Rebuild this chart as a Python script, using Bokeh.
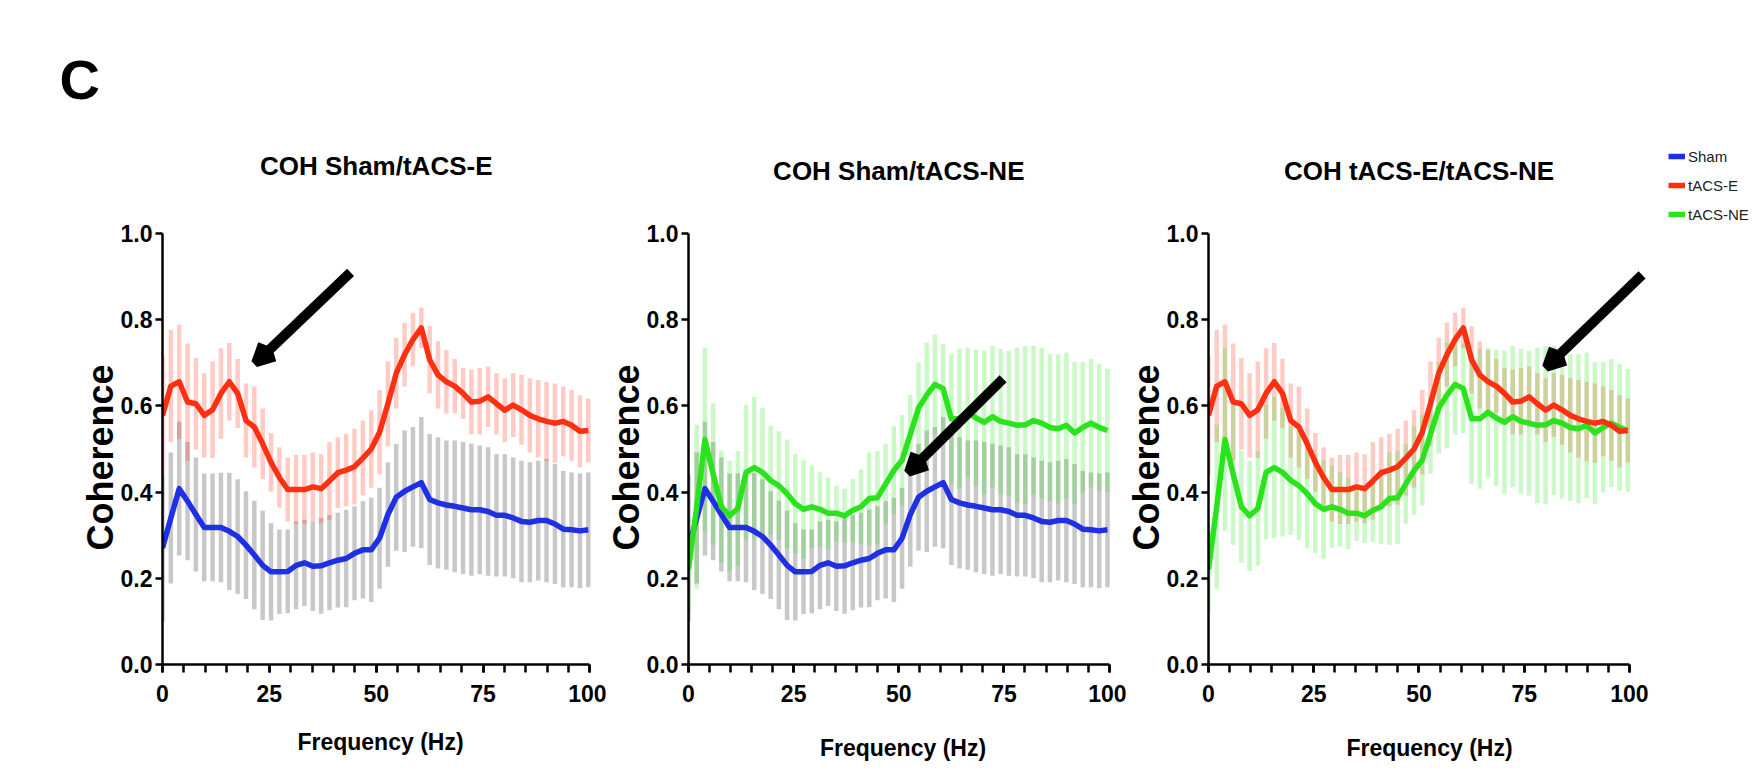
from bokeh.plotting import figure
from bokeh.layouts import row
from bokeh.models import (Range1d, SingleIntervalTicker, FixedTicker, PrintfTickFormatter,
                          Label, Arrow, OpenHead, Legend, LegendItem, Title)
from bokeh.embed import file_html
from bokeh.resources import INLINE

# ---------------- data ----------------
FREQ = [0.0, 1.95, 3.91, 5.86, 7.81, 9.77, 11.72, 13.67, 15.63, 17.58, 19.53, 21.48, 23.44,
        25.39, 27.34, 29.3, 31.25, 33.2, 35.16, 37.11, 39.06, 41.02, 42.97, 44.92, 46.88,
        48.83, 50.78, 52.73, 54.69, 56.64, 58.59, 60.55, 62.5, 64.45, 66.41, 68.36, 70.31,
        72.27, 74.22, 76.17, 78.13, 80.08, 82.03, 83.98, 85.94, 87.89, 89.84, 91.8, 93.75,
        95.7, 97.66, 99.61]

SHAM = [0.27, 0.34, 0.408, 0.379, 0.348, 0.318, 0.318, 0.318, 0.309, 0.297, 0.277, 0.254,
        0.23, 0.215, 0.215, 0.216, 0.23, 0.236, 0.228, 0.229, 0.236, 0.242, 0.246, 0.258,
        0.266, 0.266, 0.293, 0.348, 0.388, 0.402, 0.412, 0.422, 0.383, 0.375, 0.37, 0.367,
        0.363, 0.359, 0.359, 0.355, 0.346, 0.346, 0.34, 0.332, 0.33, 0.334, 0.334, 0.326,
        0.314, 0.3125, 0.31, 0.3125]
SHAM_SEM = [0.17, 0.152, 0.155, 0.137, 0.132, 0.125, 0.125, 0.127, 0.136, 0.133, 0.125, 0.126,
            0.127, 0.113, 0.098, 0.097, 0.102, 0.1, 0.104, 0.111, 0.11, 0.11, 0.113, 0.109,
            0.113, 0.121, 0.117, 0.121, 0.124, 0.141, 0.139, 0.152, 0.152, 0.152, 0.15, 0.153,
            0.153, 0.153, 0.149, 0.149, 0.142, 0.142, 0.14, 0.141, 0.139, 0.139, 0.143, 0.139,
            0.135, 0.133, 0.133, 0.133]

TACS_E = [0.578, 0.646, 0.656, 0.609, 0.605, 0.578, 0.591, 0.629, 0.656, 0.629, 0.566, 0.551,
          0.512, 0.469, 0.434, 0.406, 0.406, 0.406, 0.412, 0.408, 0.426, 0.445, 0.451, 0.459,
          0.479, 0.5, 0.539, 0.605, 0.676, 0.719, 0.754, 0.781, 0.707, 0.672, 0.656, 0.646,
          0.629, 0.609, 0.611, 0.621, 0.605, 0.59, 0.602, 0.591, 0.578, 0.57, 0.564, 0.56,
          0.564, 0.555, 0.541, 0.543]
TACS_E_SEM = [0.137, 0.13, 0.133, 0.136, 0.106, 0.098, 0.112, 0.105, 0.09, 0.08, 0.086, 0.094,
              0.082, 0.068, 0.07, 0.074, 0.08, 0.08, 0.08, 0.08, 0.09, 0.082, 0.084, 0.088,
              0.087, 0.09, 0.098, 0.098, 0.082, 0.074, 0.062, 0.047, 0.078, 0.078, 0.074, 0.063,
              0.059, 0.075, 0.077, 0.07, 0.071, 0.074, 0.074, 0.081, 0.086, 0.09, 0.092, 0.092,
              0.081, 0.082, 0.084, 0.074]

TACS_NE = [0.221, 0.366, 0.522, 0.442, 0.366, 0.345, 0.362, 0.446, 0.457, 0.446, 0.427, 0.415,
           0.396, 0.373, 0.36, 0.366, 0.36, 0.351, 0.351, 0.345, 0.358, 0.366, 0.385, 0.387,
           0.419, 0.45, 0.474, 0.534, 0.595, 0.625, 0.65, 0.64, 0.57, 0.57, 0.585, 0.572,
           0.562, 0.575, 0.564, 0.56, 0.555, 0.556, 0.566, 0.56, 0.55, 0.547, 0.555, 0.537,
           0.55, 0.56, 0.55, 0.543]
TACS_NE_SEM = [0.1, 0.19, 0.213, 0.164, 0.13, 0.128, 0.133, 0.156, 0.164, 0.149, 0.126, 0.126,
               0.126, 0.115, 0.114, 0.095, 0.086, 0.083, 0.064, 0.063, 0.073, 0.087, 0.107, 0.108,
               0.092, 0.103, 0.105, 0.091, 0.106, 0.122, 0.116, 0.103, 0.15, 0.162, 0.15, 0.158,
               0.166, 0.164, 0.168, 0.168, 0.18, 0.183, 0.173, 0.175, 0.17, 0.173, 0.169, 0.164,
               0.151, 0.149, 0.147, 0.143]

SERIES_NAMES = ["Sham", "tACS-E", "tACS-NE"]
TITLES = ["COH Sham/tACS-E", "COH Sham/tACS-NE", "COH tACS-E/tACS-NE"]
PANEL_LETTER = "C"
X_LABEL = "Frequency (Hz)"
Y_LABEL = "Coherence"
Y_TICKS = [0.0, 0.2, 0.4, 0.6, 0.8, 1.0]

# arrows (tail -> tip) in data coordinates of each panel
ARROWS = [((44.0, 0.91), (21.8, 0.70)),
          ((74.8, 0.663), (52.3, 0.446)),
          ((103.0, 0.904), (80.3, 0.69))]

# ---------------- styles / geometry ----------------
BLUE = "#1f2fe3"
RED = "#ff3012"
GREEN = "#2ae31c"
GRAY = "#9a9a9a"
FONT = "Liberation Sans"
TOP = 110          # frame top (page px)
PX_UNIT = 431      # px per coherence unit
FRAME_H = 554      # frame height -> y=1 at 233, y=0 at 664
BOTTOM = 106       # bottom border


def bars(p, y, sem, color, alpha):
    lo = [m - s for m, s in zip(y, sem)]
    hi = [m + s for m, s in zip(y, sem)]
    p.segment(x0=FREQ, y0=lo, x1=FREQ, y1=hi, line_color=color, line_alpha=alpha,
              line_width=4.5, line_cap="butt")


def make_panel(idx, x_end, px_hz, bl, br, lab_sd, title_y):
    frame_w = int(round(px_hz * x_end))
    p = figure(width=bl + frame_w + br, height=TOP + FRAME_H + BOTTOM,
               x_range=Range1d(0, x_end), y_range=Range1d(0, FRAME_H / PX_UNIT),
               output_backend="svg", toolbar_location=None,
               min_border_left=bl, min_border_right=br,
               min_border_top=TOP, min_border_bottom=BOTTOM)
    p.outline_line_color = None
    p.xgrid.visible = False
    p.ygrid.visible = False
    p.background_fill_color = "white"
    p.border_fill_color = "white"

    xa = p.xaxis[0]
    xa.ticker = SingleIntervalTicker(interval=25, num_minor_ticks=5)
    xa.bounds = (0, 100)
    ya = p.yaxis[0]
    ya.ticker = FixedTicker(ticks=Y_TICKS)
    ya.formatter = PrintfTickFormatter(format="%.1f")
    ya.bounds = (0, 1)
    for ax in (xa, ya):
        ax.axis_line_width = 2.5
        ax.axis_line_color = "black"
        ax.major_tick_line_width = 2.5
        ax.major_tick_line_color = "black"
        ax.minor_tick_line_width = 2.5
        ax.minor_tick_line_color = "black"
        ax.major_tick_in = 0
        ax.minor_tick_in = 0
        ax.major_label_text_font = FONT
        ax.major_label_text_font_style = "bold"
        ax.major_label_text_font_size = "23px"
        ax.major_label_text_color = "black"
        ax.axis_label_text_font = FONT
        ax.axis_label_text_font_style = "bold"
        ax.axis_label_text_color = "black"
    xa.major_tick_out = 8
    xa.minor_tick_out = 8
    xa.major_label_standoff = 12
    xa.axis_label = X_LABEL
    xa.axis_label_text_font_size = "23px"
    xa.axis_label_standoff = lab_sd
    ya.major_tick_out = 7
    ya.major_label_standoff = 3

    # y-axis title beside the tick labels, centred a little above the middle of 0..1
    p.add_layout(Title(text=Y_LABEL, align="left", offset=114, standoff=-6,
                       vertical_align="bottom", text_font=FONT, text_font_style="bold",
                       text_font_size="36px", text_color="black"), "left")

    p.add_layout(Label(x=50, y=title_y, text=TITLES[idx], text_align="center",
                       text_baseline="middle", text_font=FONT, text_font_style="bold",
                       text_font_size="26px", text_color="black"))
    return p


# panel 1  (x=0 at page 162)
p1 = make_panel(0, 102, 4.27, 162, 8, 24, 1.1555)
p1.add_layout(Title(text=PANEL_LETTER, align="left", offset=-103, standoff=0,
                    vertical_align="bottom", text_font=FONT, text_font_style="bold",
                    text_font_size="56px", text_color="black"), "above")
bars(p1, SHAM, SHAM_SEM, GRAY, 0.55)
bars(p1, TACS_E, TACS_E_SEM, RED, 0.25)
p1.line(FREQ, SHAM, line_color=BLUE, line_width=5.5, line_join="round")
p1.line(FREQ, TACS_E, line_color=RED, line_width=5.5, line_join="round")

# panel 2  (x=0 at page 688)
p2 = make_panel(1, 102, 4.21, 82, 9, 30, 1.146)
bars(p2, SHAM, SHAM_SEM, GRAY, 0.55)
bars(p2, TACS_NE, TACS_NE_SEM, GREEN, 0.25)
p2.line(FREQ, SHAM, line_color=BLUE, line_width=5.5, line_join="round")
p2.line(FREQ, TACS_NE, line_color=GREEN, line_width=5.5, line_join="round")

# panel 3  (x=0 at page 1208)
p3 = make_panel(2, 105, 4.21, 82, 0, 30, 1.146)
bars(p3, TACS_E, TACS_E_SEM, RED, 0.25)
bars(p3, TACS_NE, TACS_NE_SEM, GREEN, 0.25)
p3.line(FREQ, TACS_NE, line_color=GREEN, line_width=5.5, line_join="round")
p3.line(FREQ, TACS_E, line_color=RED, line_width=5.5, line_join="round")

for p, ((xs, ys), (xe, ye)) in zip((p1, p2, p3), ARROWS):
    p.add_layout(Arrow(x_start=xs, y_start=ys, x_end=xe, y_end=ye, line_width=10,
                       line_color="black",
                       end=OpenHead(size=18, line_width=9, line_color="black")))

# legend strip at the right edge
p4 = figure(width=102, height=TOP + FRAME_H + BOTTOM, x_range=Range1d(0, 1),
            y_range=Range1d(0, 1), output_backend="svg", toolbar_location=None,
            x_axis_location=None, y_axis_location=None,
            min_border_left=0, min_border_right=0,
            min_border_top=TOP, min_border_bottom=BOTTOM)
p4.outline_line_color = None
p4.grid.visible = False
leg_r = [p4.line(FREQ, SHAM, line_color=BLUE, line_width=5.5, visible=False),
         p4.line(FREQ, TACS_E, line_color=RED, line_width=5.5, visible=False),
         p4.line(FREQ, TACS_NE, line_color=GREEN, line_width=5.5, visible=False)]
legend = Legend(items=[LegendItem(label=n, renderers=[r]) for n, r in zip(SERIES_NAMES, leg_r)],
                location=(18, 440), orientation="vertical",
                glyph_width=17, glyph_height=20, label_height=20, spacing=9,
                label_standoff=3, padding=0, margin=0,
                label_text_font=FONT, label_text_font_size="15px",
                label_text_color="#222222", border_line_alpha=0,
                background_fill_alpha=0)
p4.add_layout(legend, "center")

layout = row(p1, p2, p3, p4)
open("out.html", "w").write(file_html(layout, INLINE))
